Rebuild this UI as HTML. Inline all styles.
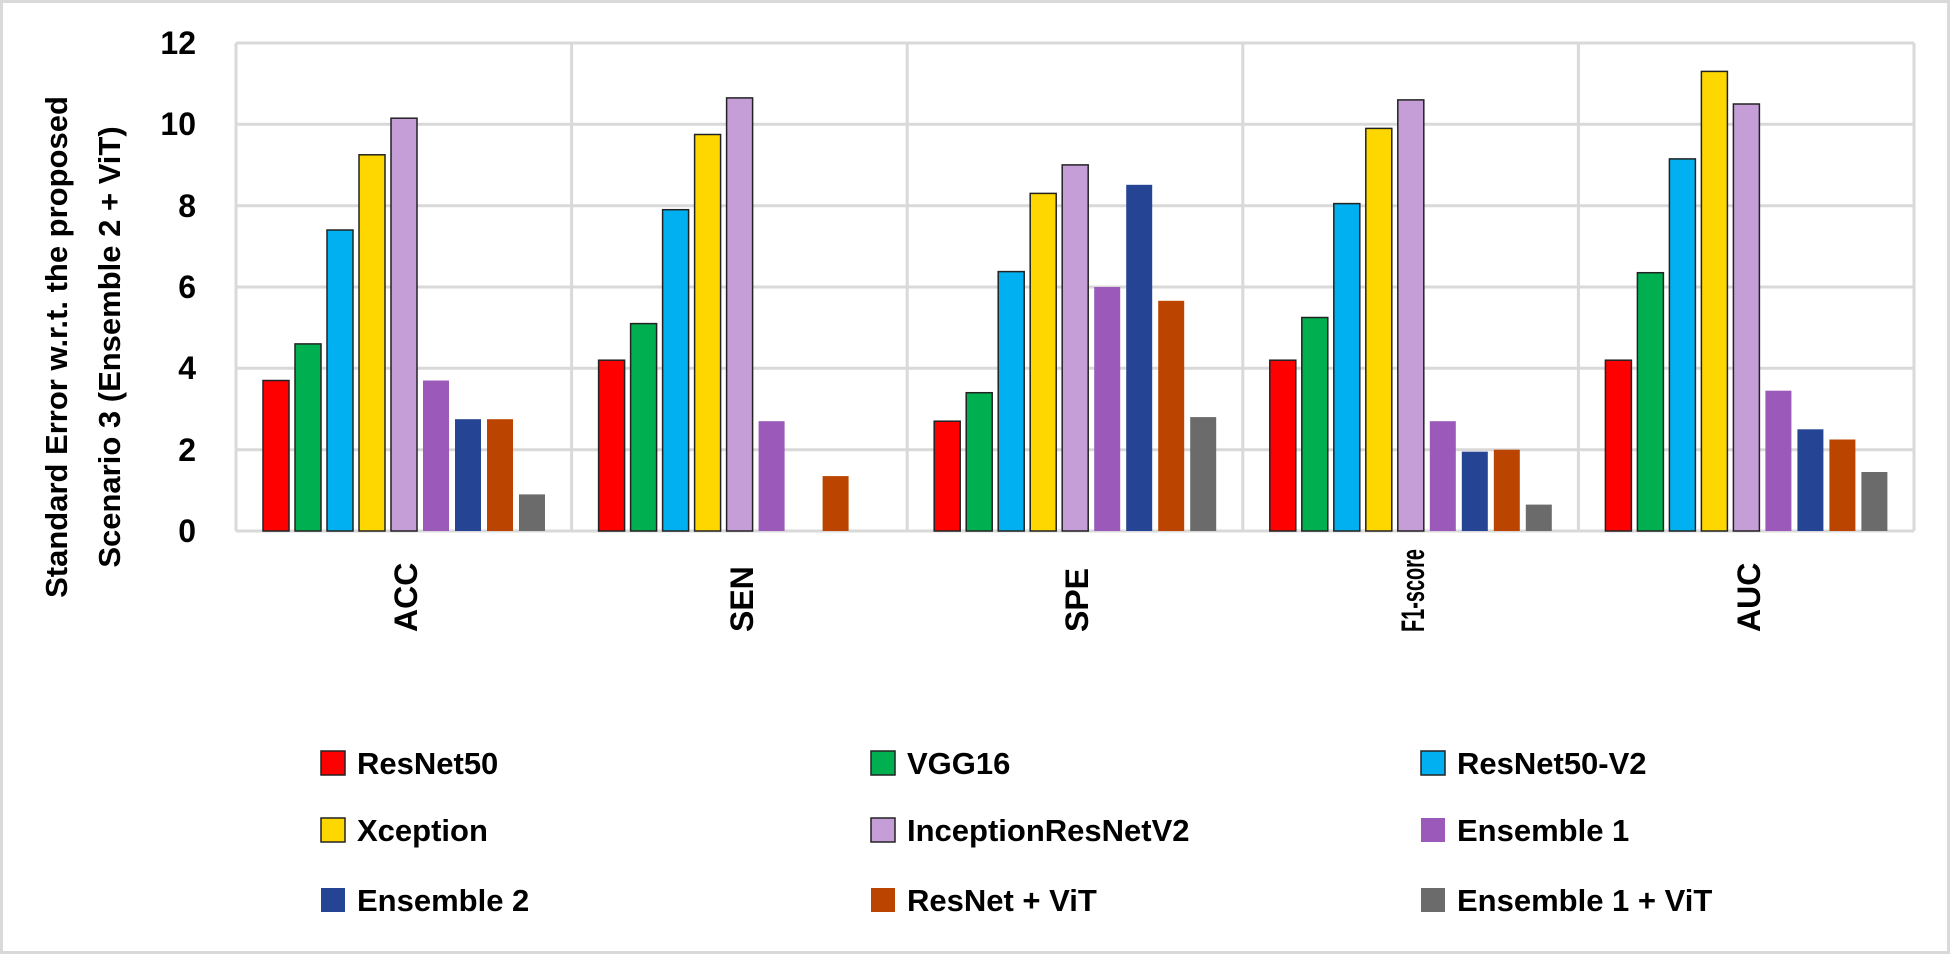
<!DOCTYPE html>
<html><head><meta charset="utf-8"><style>
html,body{margin:0;padding:0;background:#fff;}
svg{display:block;}
text{font-family:"Liberation Sans",sans-serif;font-weight:bold;fill:#000;}
</style></head><body>
<svg width="1950" height="954" viewBox="0 0 1950 954" xmlns="http://www.w3.org/2000/svg">
<rect x="1.5" y="1.5" width="1947" height="951" fill="#fff" stroke="#d9d9d9" stroke-width="3"/>
<g stroke="#d9d9d9" stroke-width="3">
<line x1="236" y1="43" x2="1914" y2="43"/>
<line x1="236" y1="124.3" x2="1914" y2="124.3"/>
<line x1="236" y1="205.7" x2="1914" y2="205.7"/>
<line x1="236" y1="287" x2="1914" y2="287"/>
<line x1="236" y1="368.3" x2="1914" y2="368.3"/>
<line x1="236" y1="449.7" x2="1914" y2="449.7"/>
<line x1="236" y1="531" x2="1914" y2="531"/>
<line x1="236" y1="43" x2="236" y2="531"/>
<line x1="571.6" y1="43" x2="571.6" y2="531"/>
<line x1="907.2" y1="43" x2="907.2" y2="531"/>
<line x1="1242.8" y1="43" x2="1242.8" y2="531"/>
<line x1="1578.4" y1="43" x2="1578.4" y2="531"/>
<line x1="1914" y1="43" x2="1914" y2="531"/>
</g>
<g font-size="32" text-anchor="end">
<text x="196" y="54">12</text>
<text x="196" y="135">10</text>
<text x="196" y="217">8</text>
<text x="196" y="298">6</text>
<text x="196" y="379">4</text>
<text x="196" y="461">2</text>
<text x="196" y="542">0</text>
</g>
<g font-size="31" text-anchor="middle">
<text transform="translate(67,347) rotate(-90)">Standard Error w.r.t. the proposed</text>
<text transform="translate(120,347) rotate(-90)">Scenario 3 (Ensemble 2 + ViT)</text>
</g>
<g font-size="31">
<rect x="321" y="751" width="24" height="24" fill="#ff0000" stroke="#222" stroke-width="1.5"/><text x="357" y="774">ResNet50</text>
<rect x="871" y="751" width="24" height="24" fill="#00b050" stroke="#222" stroke-width="1.5"/><text x="907" y="774">VGG16</text>
<rect x="1421" y="751" width="24" height="24" fill="#00b0f0" stroke="#222" stroke-width="1.5"/><text x="1457" y="774">ResNet50-V2</text>
<rect x="321" y="818" width="24" height="24" fill="#ffd700" stroke="#222" stroke-width="1.5"/><text x="357" y="841">Xception</text>
<rect x="871" y="818" width="24" height="24" fill="#c59ed8" stroke="#222" stroke-width="1.5"/><text x="907" y="841">InceptionResNetV2</text>
<rect x="1421" y="818" width="24" height="24" fill="#9b59b9"/><text x="1457" y="841">Ensemble 1</text>
<rect x="321" y="888" width="24" height="24" fill="#254494"/><text x="357" y="911">Ensemble 2</text>
<rect x="871" y="888" width="24" height="24" fill="#bb4500"/><text x="907" y="911">ResNet + ViT</text>
<rect x="1421" y="888" width="24" height="24" fill="#6b6b6b"/><text x="1457" y="911">Ensemble 1 + ViT</text>
</g>
<g stroke="#222" stroke-width="1.5">
<rect x="263" y="380.5" width="26" height="150.5" fill="#ff0000"/>
<rect x="295" y="343.9" width="26" height="187.1" fill="#00b050"/>
<rect x="327" y="230.0" width="26" height="301.0" fill="#00b0f0"/>
<rect x="359" y="154.8" width="26" height="376.2" fill="#ffd700"/>
<rect x="391" y="118.2" width="26" height="412.8" fill="#c59ed8"/>
<rect x="598.6" y="360.2" width="26" height="170.8" fill="#ff0000"/>
<rect x="630.6" y="323.6" width="26" height="207.4" fill="#00b050"/>
<rect x="662.6" y="209.7" width="26" height="321.3" fill="#00b0f0"/>
<rect x="694.6" y="134.5" width="26" height="396.5" fill="#ffd700"/>
<rect x="726.6" y="97.9" width="26" height="433.1" fill="#c59ed8"/>
<rect x="934.2" y="421.2" width="26" height="109.8" fill="#ff0000"/>
<rect x="966.2" y="392.7" width="26" height="138.3" fill="#00b050"/>
<rect x="998.2" y="271.6" width="26" height="259.4" fill="#00b0f0"/>
<rect x="1030.2" y="193.4" width="26" height="337.6" fill="#ffd700"/>
<rect x="1062.2" y="164.9" width="26" height="366.1" fill="#c59ed8"/>
<rect x="1269.8" y="360.2" width="26" height="170.8" fill="#ff0000"/>
<rect x="1301.8" y="317.5" width="26" height="213.5" fill="#00b050"/>
<rect x="1333.8" y="203.6" width="26" height="327.4" fill="#00b0f0"/>
<rect x="1365.8" y="128.4" width="26" height="402.6" fill="#ffd700"/>
<rect x="1397.8" y="99.9" width="26" height="431.1" fill="#c59ed8"/>
<rect x="1605.4" y="360.2" width="26" height="170.8" fill="#ff0000"/>
<rect x="1637.4" y="272.7" width="26" height="258.3" fill="#00b050"/>
<rect x="1669.4" y="158.9" width="26" height="372.1" fill="#00b0f0"/>
<rect x="1701.4" y="71.4" width="26" height="459.6" fill="#ffd700"/>
<rect x="1733.4" y="104.0" width="26" height="427.0" fill="#c59ed8"/>
</g>
<g>
<rect x="423" y="380.5" width="26" height="150.5" fill="#9b59b9"/>
<rect x="455" y="419.2" width="26" height="111.8" fill="#254494"/>
<rect x="487" y="419.2" width="26" height="111.8" fill="#bb4500"/>
<rect x="519" y="494.4" width="26" height="36.6" fill="#6b6b6b"/>
<rect x="758.6" y="421.2" width="26" height="109.8" fill="#9b59b9"/>
<rect x="822.6" y="476.1" width="26" height="54.9" fill="#bb4500"/>
<rect x="1094.2" y="287.0" width="26" height="244.0" fill="#9b59b9"/>
<rect x="1126.2" y="184.8" width="26" height="346.2" fill="#254494"/>
<rect x="1158.2" y="300.8" width="26" height="230.2" fill="#bb4500"/>
<rect x="1190.2" y="417.1" width="26" height="113.9" fill="#6b6b6b"/>
<rect x="1429.8" y="421.2" width="26" height="109.8" fill="#9b59b9"/>
<rect x="1461.8" y="451.7" width="26" height="79.3" fill="#254494"/>
<rect x="1493.8" y="449.7" width="26" height="81.3" fill="#bb4500"/>
<rect x="1525.8" y="504.6" width="26" height="26.4" fill="#6b6b6b"/>
<rect x="1765.4" y="390.7" width="26" height="140.3" fill="#9b59b9"/>
<rect x="1797.4" y="429.3" width="26" height="101.7" fill="#254494"/>
<rect x="1829.4" y="439.5" width="26" height="91.5" fill="#bb4500"/>
<rect x="1861.4" y="472.0" width="26" height="59.0" fill="#6b6b6b"/>
</g>
<g font-size="32">
<text transform="translate(417,632) rotate(-90)">ACC</text>
<text transform="translate(753,632) rotate(-90)">SEN</text>
<text transform="translate(1088,632) rotate(-90)">SPE</text>
<text transform="translate(1424,632) rotate(-90)" textLength="83" lengthAdjust="spacingAndGlyphs">F1-score</text>
<text transform="translate(1760,632) rotate(-90)">AUC</text>
</g>
</svg>
</body></html>
